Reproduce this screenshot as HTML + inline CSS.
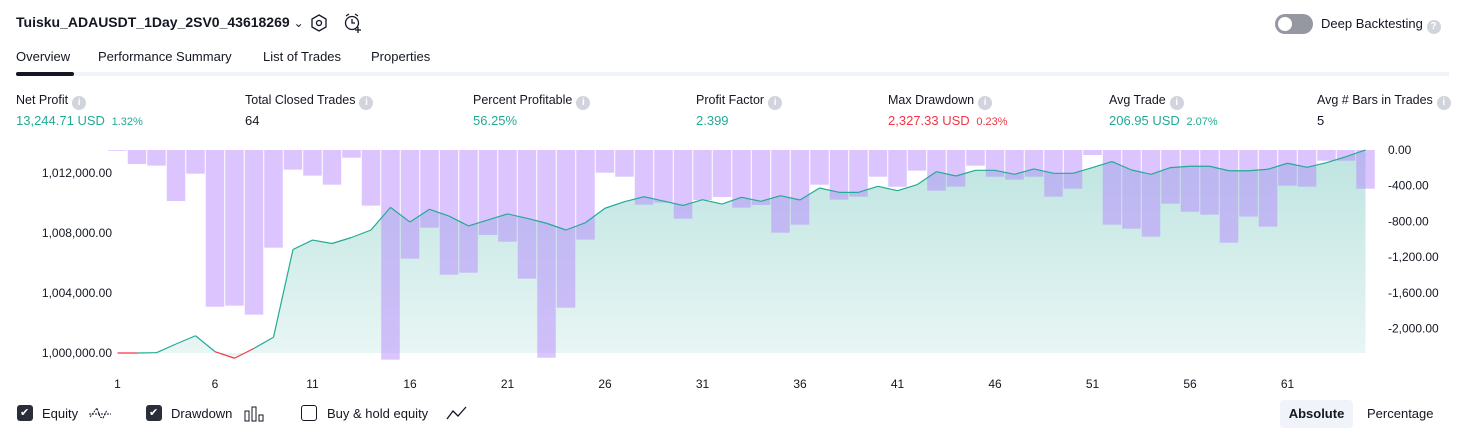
<!DOCTYPE html>
<html><head><meta charset="utf-8">
<style>
body{margin:0;width:1466px;height:438px;background:#fff;font-family:"Liberation Sans",sans-serif;color:#131722;overflow:hidden;position:relative}
.a{position:absolute;white-space:nowrap}
.info{display:inline-block;width:14px;height:14px;border-radius:50%;background:#d1d4dc;color:#fff;font-size:10px;text-align:center;line-height:14px;vertical-align:-1px;margin-left:4px;font-weight:bold}
.lbl{font-size:12.5px;color:#131722}
.val{font-size:13px}
.g{color:#22ab94}.r{color:#f23645}
.cb{position:absolute;width:16px;height:16px;border-radius:3px;box-sizing:border-box}
</style></head><body>
<div class="a" style="left:16px;top:14px;font-size:14px;font-weight:bold">Tuisku_ADAUSDT_1Day_2SV0_43618269 <span style="font-weight:normal;font-size:12px">&#8964;</span></div>
<svg class="a" style="left:310px;top:14px" width="18" height="18"><polygon points="9,1 16,5 16,13 9,17 2,13 2,5" fill="none" stroke="#131722" stroke-width="1.3"/><circle cx="9" cy="9" r="2.5" fill="none" stroke="#131722" stroke-width="1.3"/></svg>
<svg class="a" style="left:343px;top:13px" width="20" height="20"><circle cx="9" cy="10" r="6.5" fill="none" stroke="#131722" stroke-width="1.3"/><path d="M9 6v4h3M3 3l3-2M15 3l-3-2M15 14v6M12 17h6" stroke="#131722" stroke-width="1.3" fill="none"/></svg>
<div class="a" style="left:1275px;top:14px;width:38px;height:20px;border-radius:10px;background:#9598a1"><div style="position:absolute;left:3px;top:3px;width:14px;height:14px;border-radius:50%;background:#fff"></div></div>
<div class="a" style="left:1321px;top:16px;font-size:13px">Deep Backtesting <span class="info" style="margin-left:0">?</span></div>

<div class="a" style="left:16px;top:49px;font-size:13px">Overview</div>
<div class="a" style="left:98px;top:49px;font-size:13px">Performance Summary</div>
<div class="a" style="left:263px;top:49px;font-size:13px">List of Trades</div>
<div class="a" style="left:371px;top:49px;font-size:13px">Properties</div>
<div class="a" style="left:16px;top:72px;width:1433px;height:4px;background:#f0f3fa"></div>
<div class="a" style="left:16px;top:72px;width:58px;height:4px;border-radius:2px;background:#131722"></div>

<div class="a" style="left:16px;top:93px"><div class="lbl">Net Profit<span class="info">i</span></div><div class="val g" style="margin-top:3px">13,244.71 USD <span style="font-size:11px">&nbsp;1.32%</span></div></div>
<div class="a" style="left:245px;top:93px"><div class="lbl">Total Closed Trades<span class="info">i</span></div><div class="val" style="margin-top:3px">64</div></div>
<div class="a" style="left:473px;top:93px"><div class="lbl">Percent Profitable<span class="info">i</span></div><div class="val g" style="margin-top:3px">56.25%</div></div>
<div class="a" style="left:696px;top:93px"><div class="lbl">Profit Factor<span class="info">i</span></div><div class="val g" style="margin-top:3px">2.399</div></div>
<div class="a" style="left:888px;top:93px"><div class="lbl">Max Drawdown<span class="info">i</span></div><div class="val r" style="margin-top:3px">2,327.33 USD <span style="font-size:11px">&nbsp;0.23%</span></div></div>
<div class="a" style="left:1109px;top:93px"><div class="lbl">Avg Trade<span class="info">i</span></div><div class="val g" style="margin-top:3px">206.95 USD <span style="font-size:11px">&nbsp;2.07%</span></div></div>
<div class="a" style="left:1317px;top:93px"><div class="lbl">Avg # Bars in Trades<span class="info">i</span></div><div class="val" style="margin-top:3px">5</div></div>

<svg id="chart" class="a" style="left:0;top:140px" width="1466" height="258"></svg>

<div class="cb" style="left:17px;top:405px;background:#2a2e39"><span style="color:#fff;font-size:11px;position:absolute;left:3px;top:1px">✔</span></div>
<div class="a" style="left:42px;top:406px;font-size:13px">Equity</div>
<svg class="a" style="left:89px;top:405px" width="22" height="16"><path d="M1 12 L5 7 L8 3 L11 12 L14 13 L18 5 M0 9h22" fill="none" stroke="#131722" stroke-width="1" stroke-dasharray="2,1"/></svg>
<div class="cb" style="left:146px;top:405px;background:#2a2e39"><span style="color:#fff;font-size:11px;position:absolute;left:3px;top:1px">✔</span></div>
<div class="a" style="left:171px;top:406px;font-size:13px">Drawdown</div>
<svg class="a" style="left:244px;top:406px" width="22" height="16"><rect x="1" y="5" width="4" height="10" fill="none" stroke="#131722"/><rect x="8" y="1" width="4" height="14" fill="none" stroke="#131722"/><rect x="15" y="9" width="4" height="6" fill="none" stroke="#131722"/></svg>
<div class="cb" style="left:301px;top:405px;border:1.5px solid #131722"></div>
<div class="a" style="left:327px;top:406px;font-size:13px">Buy &amp; hold equity</div>
<svg class="a" style="left:446px;top:405px" width="22" height="16"><path d="M1 14 L7 6 L12 11 L20 2" fill="none" stroke="#131722" stroke-width="1.3"/></svg>
<div class="a" style="left:1280px;top:400px;width:73px;height:28px;background:#f0f3fa;border-radius:4px;font-size:13px;font-weight:bold;text-align:center;line-height:28px">Absolute</div>
<div class="a" style="left:1367px;top:406px;font-size:13px">Percentage</div>

<script>
const tradeLabels=[1,6,11,16,21,26,31,36,41,46,51,56,61];
const equityTicks=[1000000,1004000,1008000,1012000];
const drawdownTicks=[0,-400,-800,-1200,-1600,-2000];
const equity=[0,0,20,600,1150,90,-350,310,1050,6900,7530,7300,7700,8200,9710,8730,9580,9130,8470,8870,9270,8980,8650,8200,8690,9650,10090,10420,10130,9840,10220,9930,10380,10110,10490,10200,11000,10710,10710,11110,10820,11220,12090,11800,12180,12180,11910,12270,11980,11980,12360,12760,12200,11910,12360,12450,12450,12150,12150,12250,12650,12380,12690,13090,13540,13245];
const drawdown=[-8,-157,-175,-571,-265,-1755,-1743,-1844,-1094,-220,-287,-388,-86,-623,-2348,-1217,-870,-1396,-1374,-952,-1027,-1441,-2326,-1766,-1004,-254,-299,-612,-590,-769,-560,-526,-646,-616,-926,-836,-388,-556,-522,-299,-411,-231,-455,-411,-175,-299,-332,-299,-522,-433,-56,-836,-881,-970,-601,-691,-724,-1038,-746,-858,-399,-411,-120,-120,-433];
const base=1000000;
const svg=document.getElementById('chart');const NS='http://www.w3.org/2000/svg';
const OY=140;
const x=i=>117.5+i*19.5;
const yE=v=>353-(v-base)/1000*15-OY;
const yD=v=>150-v*0.0893-OY;
function mk(t,a){const e=document.createElementNS(NS,t);for(const k in a)e.setAttribute(k,a[k]);svg.appendChild(e);return e;}
const n=Math.min(equity.length,drawdown.length);
let d='M'+x(0)+','+yE(base);
for(let i=0;i<n;i++)d+=' L'+x(i)+','+yE(base+equity[i]);
d+=' L'+x(n-1)+','+yE(base)+' Z';
const defs=mk('defs',{});
defs.innerHTML='<linearGradient id="gr" x1="0" y1="0" x2="0" y2="1"><stop offset="0" stop-color="#26a69a" stop-opacity="0.3"/><stop offset="1" stop-color="#26a69a" stop-opacity="0.1"/></linearGradient>';
const area=mk('path',{d:d,fill:'url(#gr)'});


for(let i=0;i<n;i++){
 const y0=yD(0),y1=yD(drawdown[i]);
 const r=mk('rect',{x:x(i)-9.25,y:y0,width:18.5,height:Math.max(0.5,y1-y0),fill:'rgb(180,130,255)','fill-opacity':0.47});
 
 
}
for(let i=1;i<n;i++){
 const s=mk('line',{x1:x(i-1),y1:yE(base+equity[i-1]),x2:x(i),y2:yE(base+equity[i]),stroke:(equity[i]<0||equity[i-1]<0||(equity[i]===0&&equity[i-1]===0))?'#f23645':'#22ab94','stroke-width':1.2});
 
 
}
equityTicks.forEach(t=>{
 const e=mk('text',{x:112,y:yE(t)+4,'text-anchor':'end','font-size':12,fill:'#131722'});e.textContent=t.toLocaleString('en-US',{minimumFractionDigits:2});
 
 
});
drawdownTicks.forEach(t=>{
 const e=mk('text',{x:1388,y:yD(t)+4,'font-size':12,fill:'#131722'});e.textContent=t.toLocaleString('en-US',{minimumFractionDigits:2});
 
 
});
tradeLabels.forEach(t=>{
 const e=mk('text',{x:x(t-1),y:388-OY,'text-anchor':'middle','font-size':12,fill:'#131722'});e.textContent=t;
 
 
});
</script>
</body></html>
